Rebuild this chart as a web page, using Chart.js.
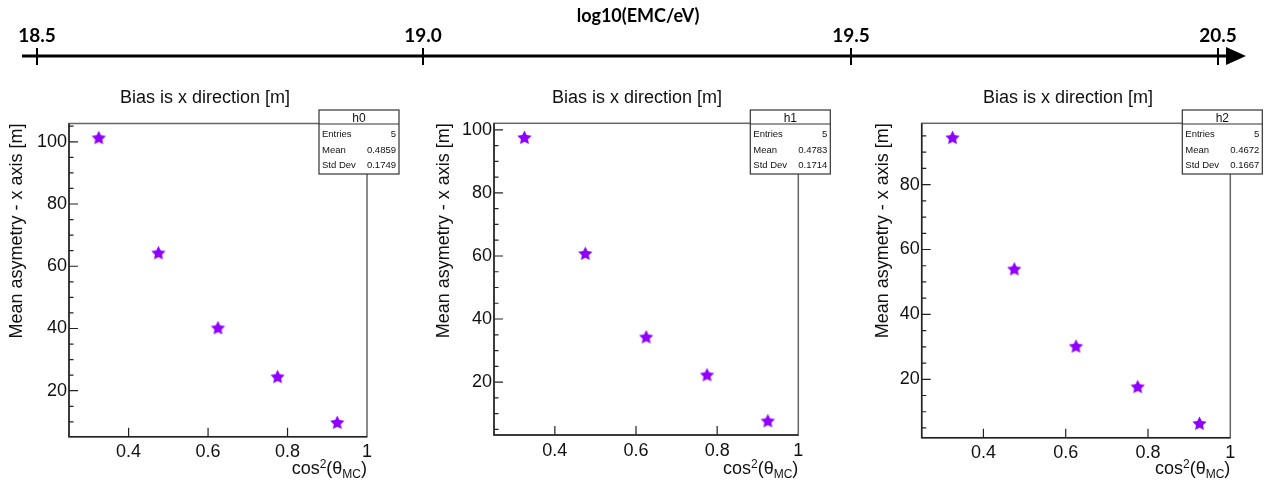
<!DOCTYPE html>
<html>
<head>
<meta charset="utf-8">
<title>Bias is x direction [m]</title>
<script src="https://cdn.jsdelivr.net/npm/chart.js@4.4.0/dist/chart.umd.min.js"></script>
<style>
  body { margin: 0; background: #fff; }
  #wrap { position: relative; width: 1279px; height: 486px; overflow: hidden; }
  canvas { position: absolute; top: 0; }
</style>
</head>
<body>
<div id="wrap">
  <canvas id="energyAxis" width="1279" height="80" style="left:0"></canvas>
  <canvas id="h0" width="420" height="486" style="left:0"></canvas>
  <canvas id="h1" width="430" height="486" style="left:420px"></canvas>
  <canvas id="h2" width="429" height="486" style="left:850px"></canvas>
</div>
<script>
// data
const cosBins = [0.325, 0.475, 0.625, 0.775, 0.925];
const meanAsymH0 = [101.3, 64.3, 40.2, 24.5, 9.8];
const meanAsymH1 = [97.6, 60.8, 34.3, 22.3, 7.7];
const meanAsymH2 = [94.5, 54.0, 30.2, 17.7, 6.4];

const xTicks = [0.4, 0.6, 0.8, 1];
const yTicksH0 = [20, 40, 60, 80, 100];
const yTicksH1 = [20, 40, 60, 80, 100];
const yTicksH2 = [20, 40, 60, 80];

const histNames = ['h0', 'h1', 'h2'];
const statEntries = ['5', '5', '5'];
const statMean = ['0.4859', '0.4783', '0.4672'];
const statStdDev = ['0.1749', '0.1714', '0.1667'];

const energyTicks = ['18.5', '19.0', '19.5', '20.5'];

const panelTitle = 'Bias is x direction [m]';
const yTitle = 'Mean asymetry - x axis [m]';
const energyTitle = 'log10(EMC/eV)';

// layout (page pixels)
const energyTickX = [37, 423, 851, 1218];
const panels = [
    { id: 'h0', left: 0, width: 420, area: [69, 123.5, 367, 436.7], titleX: 205, yTitleX: 17 },
    { id: 'h1', left: 420, width: 430, area: [494, 123.3, 798.3, 435], titleX: 637, yTitleX: 444 },
    { id: 'h2', left: 850, width: 429, area: [921.7, 123.3, 1230.3, 437.7], titleX: 1068, yTitleX: 883.5 }
];

const FONT = '"Liberation Sans", Arial, sans-serif';
const starColor = '#9000ff';

function makeStar(rOuter, color) {
    const c = document.createElement('canvas');
    const s = Math.ceil(rOuter * 2 + 2);
    c.width = c.height = s;
    const g = c.getContext('2d');
    g.translate(s / 2, s / 2 + 0.5);
    g.beginPath();
    for (let i = 0; i < 10; i++) {
        const r = i % 2 ? rOuter * 0.5 : rOuter;
        const a = -Math.PI / 2 + i * Math.PI / 5;
        g.lineTo(r * Math.cos(a), r * Math.sin(a));
    }
    g.closePath();
    g.fillStyle = color;
    g.fill();
    return c;
}
const starImg = makeStar(7.5, starColor);

// draws the ROOT style frame, inner ticks, titles and stats box
const rootFrame = {
    id: 'rootFrame',
    beforeDatasetsDraw(chart, args, opts) {
        const { ctx, chartArea: a, scales: { x, y } } = chart;
        ctx.save();
        ctx.strokeStyle = '#666';
        ctx.lineWidth = 1.5;
        ctx.strokeRect(a.left, a.top, a.right - a.left, a.bottom - a.top);
        ctx.strokeStyle = '#222';
        ctx.beginPath();
        ctx.moveTo(a.left, a.top);
        ctx.lineTo(a.left, a.bottom);
        ctx.lineTo(a.right, a.bottom);
        ctx.stroke();

        ctx.lineWidth = 1.2;
        ctx.beginPath();
        xTicks.forEach(v => {
            const px = x.getPixelForValue(v);
            if (px < a.right - 1) {
                ctx.moveTo(px, a.bottom);
                ctx.lineTo(px, a.bottom - 9);
            }
        });
        for (let v = Math.ceil(y.min / 5) * 5; v <= y.max; v += 5) {
            const py = y.getPixelForValue(v);
            const len = v % 20 === 0 ? 9 : 4.5;
            ctx.moveTo(a.left, py);
            ctx.lineTo(a.left + len, py);
        }
        ctx.stroke();
        ctx.restore();
    },
    afterDraw(chart, args, opts) {
        const { ctx, chartArea: a } = chart;
        ctx.save();
        ctx.fillStyle = '#111';

        // panel title
        ctx.font = `18px ${FONT}`;
        ctx.textAlign = 'center';
        ctx.textBaseline = 'alphabetic';
        ctx.fillText(panelTitle, opts.titleX, 103);

        // y title
        ctx.save();
        ctx.translate(opts.yTitleX, a.top);
        ctx.rotate(-Math.PI / 2);
        ctx.textAlign = 'right';
        ctx.textBaseline = 'middle';
        ctx.fillText(yTitle, 0, 0);
        ctx.restore();

        // x title cos^2(theta_MC)
        const parts = [['cos', 18, 0], ['2', 12, -6], ['(\u03b8', 18, 0], ['MC', 12, 4], [')', 18, 0]];
        let total = 0;
        parts.forEach(p => { ctx.font = `${p[1]}px ${FONT}`; total += ctx.measureText(p[0]).width; });
        let tx = a.right - total;
        ctx.textAlign = 'left';
        parts.forEach(p => {
            ctx.font = `${p[1]}px ${FONT}`;
            ctx.fillText(p[0], tx, 474 + p[2]);
            tx += ctx.measureText(p[0]).width;
        });

        // stats box
        const bx = a.right - 48, by = 110, bw = 80, bh = 64;
        ctx.fillStyle = '#fff';
        ctx.fillRect(bx, by, bw, bh);
        ctx.strokeStyle = '#333';
        ctx.lineWidth = 1.2;
        ctx.strokeRect(bx, by, bw, bh);
        ctx.beginPath();
        ctx.moveTo(bx, by + 14);
        ctx.lineTo(bx + bw, by + 14);
        ctx.stroke();
        ctx.fillStyle = '#111';
        ctx.font = `12px ${FONT}`;
        ctx.textAlign = 'center';
        ctx.fillText(opts.name, bx + bw / 2, by + 12);
        ctx.font = `9.5px ${FONT}`;
        const rows = [['Entries', opts.entries], ['Mean', opts.mean], ['Std Dev', opts.std]];
        rows.forEach((r, i) => {
            const yy = by + 27 + i * 15.5;
            ctx.textAlign = 'left';
            ctx.fillText(r[0], bx + 3, yy);
            ctx.textAlign = 'right';
            ctx.fillText(r[1], bx + bw - 3, yy);
        });
        ctx.restore();
    }
};

function makePanel(idx, values, yTicks) {
    const p = panels[idx];
    const [l, t, r, b] = p.area;
    const h = 486;
    const yMin = Math.min(...values), yMax = Math.max(...values);
    const pad = 0.05 * (yMax - yMin);

    return new Chart(document.getElementById(p.id), {
        type: 'scatter',
        data: {
            datasets: [{
                data: cosBins.map((x, i) => ({ x, y: values[i] })),
                pointStyle: starImg,
                pointRadius: 7,
                pointHoverRadius: 7
            }]
        },
        options: {
            responsive: false,
            animation: false,
            layout: { padding: { left: 0, top: t, right: p.width - (r - p.left), bottom: 0 } },
            plugins: {
                legend: { display: false },
                tooltip: { enabled: false },
                rootFrame: {
                    titleX: p.titleX - p.left,
                    yTitleX: p.yTitleX - p.left,
                    name: histNames[idx],
                    entries: statEntries[idx],
                    mean: statMean[idx],
                    std: statStdDev[idx]
                }
            },
            scales: {
                x: {
                    type: 'linear',
                    min: 0.25,
                    max: 1.0,
                    grid: { display: false, drawTicks: false },
                    border: { display: false },
                    afterBuildTicks: s => { s.ticks = xTicks.map(v => ({ value: v })); },
                    afterFit: s => { s.height = h - b; },
                    ticks: {
                        padding: 5,
                        color: '#111',
                        font: { family: FONT, size: 18 },
                        maxRotation: 0,
                        autoSkip: false,
                        callback: v => String(+v.toFixed(2))
                    }
                },
                y: {
                    type: 'linear',
                    min: yMin - pad,
                    max: yMax + pad,
                    grid: { display: false, drawTicks: false },
                    border: { display: false },
                    afterBuildTicks: s => { s.ticks = yTicks.map(v => ({ value: v })); },
                    afterFit: s => { s.width = l - p.left; },
                    ticks: {
                        padding: 2,
                        color: '#111',
                        font: { family: FONT, size: 18 },
                        autoSkip: false,
                        callback: v => String(v)
                    }
                }
            }
        },
        plugins: [rootFrame]
    });
}

// top energy arrow
const energyAxisPlugin = {
    id: 'energyAxisPlugin',
    afterDraw(chart) {
        const ctx = chart.ctx;
        const y0 = 56;
        ctx.save();
        ctx.strokeStyle = '#000';
        ctx.fillStyle = '#000';
        ctx.lineWidth = 3;
        ctx.beginPath();
        ctx.moveTo(22, y0);
        ctx.lineTo(1230, y0);
        ctx.stroke();
        ctx.beginPath();
        ctx.moveTo(1226, y0 - 9);
        ctx.lineTo(1246, y0);
        ctx.lineTo(1226, y0 + 9);
        ctx.closePath();
        ctx.fill();

        ctx.lineWidth = 2;
        ctx.beginPath();
        energyTickX.forEach(x => {
            ctx.moveTo(x, y0 - 8);
            ctx.lineTo(x, y0 + 9);
        });
        ctx.stroke();

        ctx.font = 'bold 19px Lato, "Open Sans", sans-serif';
        ctx.textAlign = 'center';
        ctx.textBaseline = 'alphabetic';
        energyTicks.forEach((lab, i) => ctx.fillText(lab, energyTickX[i], 42));
        ctx.font = 'bold 18px Lato, "Open Sans", sans-serif';
        ctx.fillText(energyTitle, 638, 22);
        ctx.restore();
    }
};

new Chart(document.getElementById('energyAxis'), {
    type: 'scatter',
    data: { datasets: [] },
    options: {
        responsive: false,
        animation: false,
        plugins: { legend: { display: false }, tooltip: { enabled: false } },
        scales: { x: { display: false }, y: { display: false } }
    },
    plugins: [energyAxisPlugin]
});

makePanel(0, meanAsymH0, yTicksH0);
makePanel(1, meanAsymH1, yTicksH1);
makePanel(2, meanAsymH2, yTicksH2);
</script>
</body>
</html>
